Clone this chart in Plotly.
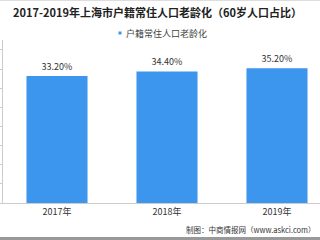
import plotly.graph_objects as go

categories = ["2017年", "2018年", "2019年"]
values = [33.2, 34.4, 35.2]
labels = ["33.20%", "34.40%", "35.20%"]
series_name = "户籍常住人口老龄化"
title_text = "2017-2019年上海市户籍常住人口老龄化（60岁人口占比）"
source_text = "制图：中商情报网（www.askci.com）"

FONT = "Noto Sans CJK SC"
BAR_COLOR = "#3d96ee"

fig = go.Figure()
fig.add_trace(go.Bar(
    x=categories, y=values, name=series_name, showlegend=False,
    marker=dict(color=BAR_COLOR, line=dict(width=0)),
    width=0.555,
    text=labels, textposition="outside",
    textfont=dict(family=FONT, size=9, color="#333333"),
    cliponaxis=False,
))

PL, PT, PW, PH = 3, 40, 317, 163  # plot area in pixels


def px_x(x):
    return (x - PL) / PW


def px_y(y):
    return 1 - (y - PT) / PH


fig.update_layout(
    width=320, height=240,
    margin=dict(l=PL, r=0, t=PT, b=240 - PT - PH),
    paper_bgcolor="white", plot_bgcolor="white",
    showlegend=False,
    title=dict(text="<b>" + title_text + "</b>", x=0.492, xref="container", xanchor="center",
               y=1 - 13 / 240, yref="container", yanchor="middle",
               font=dict(family=FONT, size=11, color="#222222")),
    xaxis=dict(range=[-0.491, 2.391], showline=True, linecolor="#cccccc", linewidth=1,
               ticks="", showgrid=False, zeroline=False,
               tickfont=dict(family=FONT, size=9, color="#333333")),
    yaxis=dict(range=[0, 42.6], dtick=5, tick0=0, showline=True, linecolor="#cccccc", linewidth=1,
               ticks="outside", ticklen=3, tickcolor="#cccccc", showticklabels=False,
               showgrid=False, zeroline=False),
)
# legend: small square + label
fig.add_shape(type="rect", xref="paper", yref="paper",
              x0=px_x(118.5), x1=px_x(121.5), y0=px_y(34.5), y1=px_y(31.5),
              fillcolor=BAR_COLOR, line=dict(width=0))
fig.add_annotation(text=series_name, xref="paper", yref="paper",
                   x=px_x(124), y=px_y(33), xanchor="left", yanchor="middle",
                   showarrow=False, font=dict(family=FONT, size=9, color="#444444"))
# source note
fig.add_annotation(text=source_text, xref="paper", yref="paper",
                   x=px_x(318), y=px_y(229), xanchor="right", yanchor="middle",
                   showarrow=False, font=dict(family=FONT, size=7.5, color="#333333"))
# frame lines
fig.add_shape(type="line", xref="paper", yref="paper", x0=px_x(0), x1=px_x(320),
              y0=px_y(238.5), y1=px_y(238.5), line=dict(color="#999999", width=3))
fig.add_shape(type="line", xref="paper", yref="paper", x0=px_x(0), x1=px_x(320),
              y0=px_y(0.5), y1=px_y(0.5), line=dict(color="#dddddd", width=1))

fig.write_html("out.html")
